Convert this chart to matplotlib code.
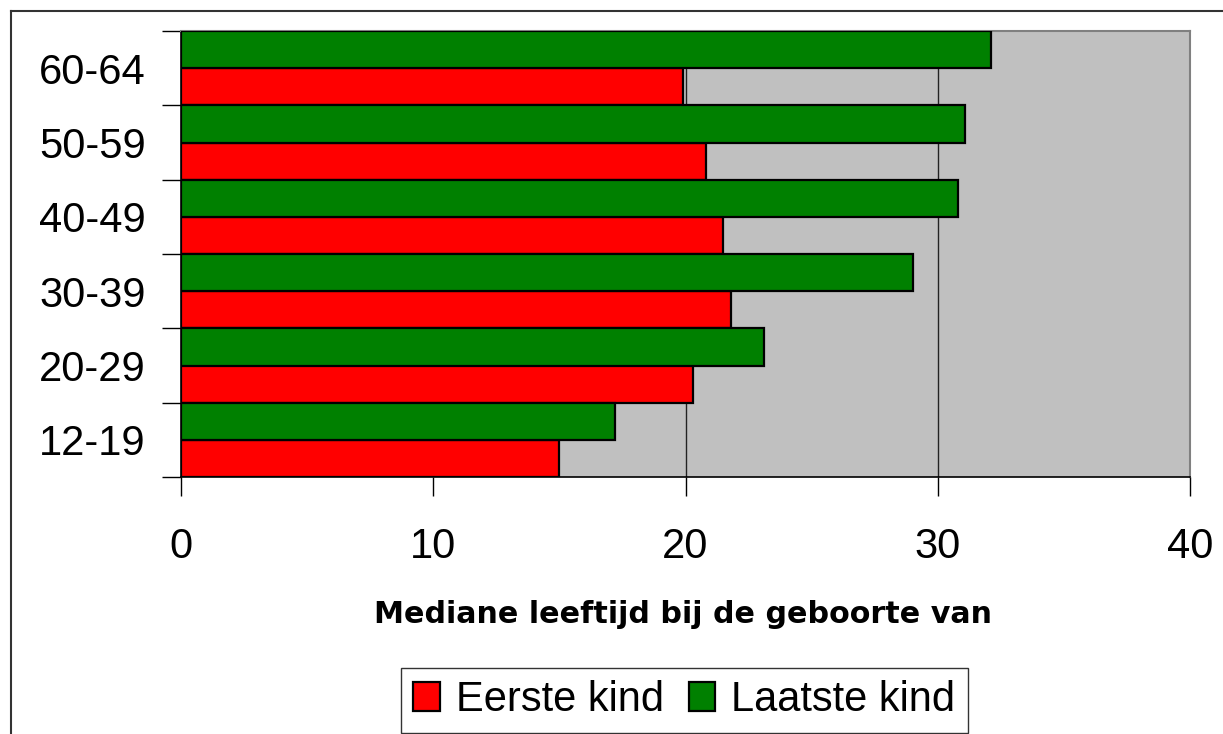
import matplotlib
matplotlib.use("Agg")
import matplotlib.pyplot as plt
from matplotlib.lines import Line2D
import numpy as np

# age groups (bottom to top) and median age at birth of first / last child
groups = ["12-19", "20-29", "30-39", "40-49", "50-59", "60-64"]
eerste_kind = [15.0, 20.3, 21.8, 21.5, 20.8, 19.9]
laatste_kind = [17.2, 23.1, 29.0, 30.8, 31.1, 32.1]
x_ticks = [0, 10, 20, 30, 40]

RED = "#ff0000"
GREEN = "#008000"
GRAY = "#c0c0c0"

plt.rcParams["font.family"] = ["Liberation Sans", "DejaVu Sans"]

fig = plt.figure(figsize=(12.23, 7.34), dpi=100)
W, H = 1223, 734
ax = fig.add_axes([181 / W, 1 - 477 / H, (1190 - 181) / W, (477 - 31) / H])
ax.set_facecolor(GRAY)

y = np.arange(len(groups))
bh = 0.5
ax.barh(y - bh / 2, eerste_kind, height=bh, color=RED, edgecolor="black",
        linewidth=1.6, label="Eerste kind", zorder=3)
ax.barh(y + bh / 2, laatste_kind, height=bh, color=GREEN, edgecolor="black",
        linewidth=1.6, label="Laatste kind", zorder=3)

ax.set_xlim(0, 40)
ax.set_ylim(-0.5, len(groups) - 0.5)
ax.set_xticks(x_ticks)
ax.set_xticklabels([str(t) for t in x_ticks], fontsize=30)
ax.tick_params(axis="x", length=14, width=1, direction="out", pad=22)
ax.xaxis.grid(True, color="#222222", linewidth=1, zorder=1)
ax.set_axisbelow(True)

# category borders as major ticks, labels on minor ticks at centers
ax.set_yticks(np.arange(-0.5, len(groups), 1.0))
ax.set_yticklabels([])
ax.tick_params(axis="y", which="major", length=14, width=1, direction="out")
ax.set_yticks(y, minor=True)
ax.set_yticklabels(groups, minor=True, fontsize=30)
ax.tick_params(axis="y", which="minor", length=0, pad=25.5)

for side in ("left", "bottom"):
    ax.spines[side].set_color("black")
    ax.spines[side].set_linewidth(1.2)
for side in ("top", "right"):
    ax.spines[side].set_color("#808080")
    ax.spines[side].set_linewidth(1.5)

fig.text(683.5 / W, 1 - 623 / H, "Mediane leeftijd bij de geboorte van",
         fontsize=21.7, fontweight="bold", family="DejaVu Sans",
         ha="center", va="baseline")

handles, labels = ax.get_legend_handles_labels()
leg = fig.legend(handles, labels, loc="center", ncol=2,
                 bbox_to_anchor=(684 / W, 1 - 700 / H), fontsize=30,
                 frameon=True, fancybox=False, shadow=False, edgecolor="black",
                 handlelength=0.64, handleheight=0.67, handletextpad=0.38,
                 columnspacing=0.6, borderpad=0.3, borderaxespad=0)
leg.get_frame().set_linewidth(1.0)

# outer chart frame (cropped on the right and bottom)
fig.add_artist(Line2D([11 / W, 1], [1 - 11 / H, 1 - 11 / H],
                      transform=fig.transFigure, color="#333333", linewidth=1.5))
fig.add_artist(Line2D([11 / W, 11 / W], [0, 1 - 11 / H],
                      transform=fig.transFigure, color="#333333", linewidth=1.5))

fig.savefig("out.png", dpi=100)
plt.close(fig)
